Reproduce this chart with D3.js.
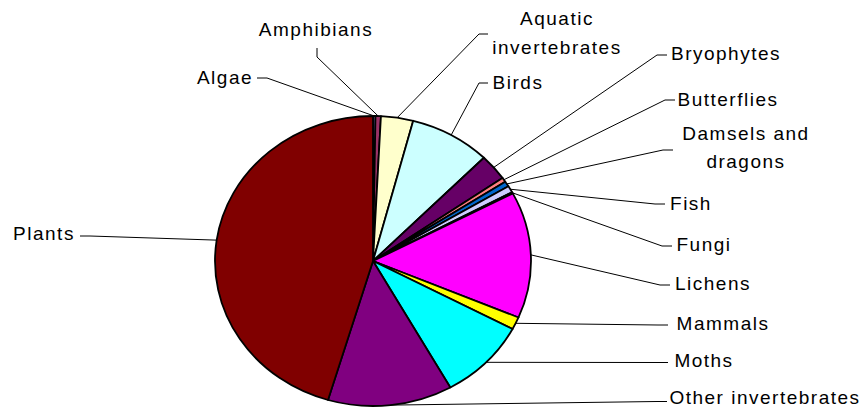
<!DOCTYPE html>
<html>
<head>
<meta charset="utf-8">
<script src="https://cdn.jsdelivr.net/npm/d3@7"></script>
<style>
  html, body { margin: 0; padding: 0; background: #fff; }
  svg { display: block; }
  text { font-family: "Liberation Sans", Arial, sans-serif; font-size: 19px; letter-spacing: 1.5px; fill: #000; }
</style>
</head>
<body>
<svg id="chart" width="866" height="408"></svg>
<script>
// Share of recorded species by group (per cent)
const groups = ["Algae", "Amphibians", "Aquatic invertebrates", "Birds", "Bryophytes",
  "Butterflies", "Damsels and dragons", "Fish", "Fungi", "Lichens", "Mammals",
  "Moths", "Other invertebrates", "Plants"];
const shares = [0.25, 0.55, 3.3, 8.3, 2.9, 0.5, 0.6, 0.75, 0.15, 14.1, 1.4, 9.1, 12.75, 45.45];
const palette = ["#9999FF", "#993366", "#FFFFCC", "#CCFFFF", "#660066", "#FF8080",
  "#0066CC", "#CCCCFF", "#000080", "#FF00FF", "#FFFF00", "#00FFFF", "#800080", "#800000"];

// Label placement: text block centre and leader knee/end
const labelLayout = [
  { lines: ["Algae"], x: 225, y: 77, knee: [267, 78], end: [257, 78] },
  { lines: ["Amphibians"], x: 316, y: 29, knee: [317, 57], end: [317, 48] },
  { lines: ["Aquatic", "invertebrates"], x: 557, y: 33, knee: [479, 34], end: [488, 34] },
  { lines: ["Birds"], x: 518, y: 82, knee: [479, 83], end: [488, 83] },
  { lines: ["Bryophytes"], x: 726, y: 53, knee: [657, 55], end: [667, 55] },
  { lines: ["Butterflies"], x: 728, y: 99, knee: [665, 100], end: [675, 100] },
  { lines: ["Damsels and", "dragons"], x: 746, y: 147.5, knee: [663, 150], end: [673, 150] },
  { lines: ["Fish"], x: 691, y: 203, knee: [655, 204], end: [665, 204] },
  { lines: ["Fungi"], x: 704, y: 244, knee: [662, 246], end: [672, 246] },
  { lines: ["Lichens"], x: 713, y: 283, knee: [660, 285], end: [670, 285] },
  { lines: ["Mammals"], x: 723, y: 323, knee: [658, 325], end: [668, 325] },
  { lines: ["Moths"], x: 704, y: 360, knee: [658, 362.5], end: [668, 362.5] },
  { lines: ["Other invertebrates"], x: 765, y: 397.5, knee: [657, 401.5], end: [667, 401.5] },
  { lines: ["Plants"], x: 44, y: 233, knee: [90, 236], end: [80, 236] }
];

const cx = 373, cy = 261, rx = 158, ry = 145;
const svg = d3.select("#chart");

const colour = d3.scaleOrdinal().domain(groups).range(palette);
const pie = d3.pie().sort(null).value(d => d.value);
const arcs = pie(groups.map((g, i) => ({ name: g, value: shares[i] })));
const arc = d3.arc().innerRadius(0).outerRadius(rx);

// Pie drawn as a circle and squashed vertically into an ellipse
svg.append("g")
  .attr("transform", `translate(${cx},${cy}) scale(1,${ry / rx})`)
  .selectAll("path")
  .data(arcs)
  .join("path")
  .attr("d", arc)
  .attr("fill", d => colour(d.data.name))
  .attr("stroke", "#000")
  .attr("stroke-width", 1.8)
  .attr("stroke-linejoin", "round")
  .attr("vector-effect", "non-scaling-stroke");

// Leader lines from each slice's outer edge to its label
const edgePoint = d => {
  const a = (d.startAngle + d.endAngle) / 2;
  return [cx + rx * Math.sin(a), cy - ry * Math.cos(a)];
};
const line = d3.line();

const labels = svg.append("g");
arcs.forEach((d, i) => {
  const L = labelLayout[i];
  labels.append("path")
    .attr("d", line([edgePoint(d), L.knee, L.end]))
    .attr("fill", "none")
    .attr("stroke", "#000")
    .attr("stroke-width", 1);
  const lineGap = 28.5;
  const top = L.y - (L.lines.length - 1) * lineGap / 2;
  L.lines.forEach((t, j) => {
    labels.append("text")
      .attr("x", L.x)
      .attr("y", top + j * lineGap)
      .attr("dy", "0.35em")
      .attr("text-anchor", "middle")
      .text(t);
  });
});
</script>
</body>
</html>
